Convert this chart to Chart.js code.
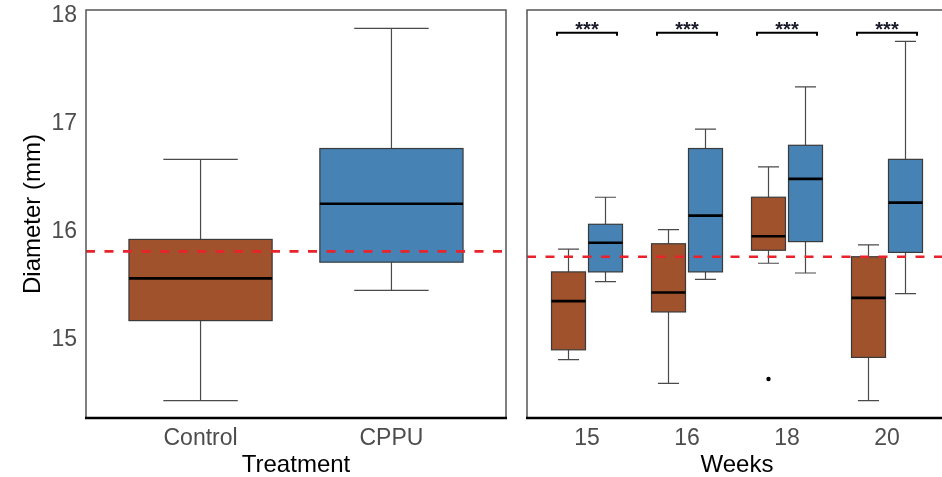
<!DOCTYPE html>
<html lang="en">
<head>
<meta charset="UTF-8">
<title>Diameter by treatment and week</title>
<script src="https://cdn.jsdelivr.net/npm/chart.js"></script>
<style>
  html, body { margin: 0; padding: 0; background: #fff; overflow: hidden; }
  body { width: 942px; height: 477px; position: relative; }
  canvas { position: absolute; top: 0; }
  #treatChart { left: 0; }
  #weekChart { left: 515px; }
</style>
</head>
<body>
<canvas id="treatChart" width="515" height="477"></canvas>
<canvas id="weekChart" width="440" height="477"></canvas>
<script>
// left panel, by treatment
const treatments = ['Control', 'CPPU'];
const treatLow = [14.44, 15.46];
const treatQ1 = [15.18, 15.72];
const treatMedian = [15.57, 16.26];
const treatQ3 = [15.93, 16.77];
const treatHigh = [16.67, 17.88];
const treatRef = 15.82;

// right panel, by week (control / CPPU side by side)
const weeks = ['15', '16', '18', '20'];
const ctrlLow = [14.82, 14.60, 15.71, 14.44];
const ctrlQ1 = [14.91, 15.26, 15.83, 14.84];
const ctrlMedian = [15.36, 15.44, 15.96, 15.39];
const ctrlQ3 = [15.63, 15.89, 16.32, 15.77];
const ctrlHigh = [15.84, 16.02, 16.60, 15.88];
const cppuLow = [15.54, 15.56, 15.62, 15.43];
const cppuQ1 = [15.63, 15.63, 15.91, 15.81];
const cppuMedian = [15.90, 16.15, 16.49, 16.27];
const cppuQ3 = [16.07, 16.77, 16.80, 16.67];
const cppuHigh = [16.32, 16.95, 17.34, 17.76];
const outlierWeek = [3];       // week position (18)
const outlierValue = [14.64];  // control group
const weekRef = 15.77;
const sigLabels = ['***', '***', '***', '***'];
const sigLevel = 17.84;

const yTicks = [15, 16, 17, 18];

const BROWN = '#A0522D';
const BLUE = '#4682B4';
const FONT = "'Liberation Sans', Arial, sans-serif";

// boxes, whiskers and medians drawn through the chart scales
function boxPlugin(groups, capRatio) {
  return {
    id: 'boxes',
    beforeDatasetsDraw(chart) {
      const { ctx, scales: { x, y } } = chart;
      ctx.save();
      groups.forEach(g => {
        g.median.forEach((m, i) => {
          const cx = i + 1 + g.offset;
          const xl = x.getPixelForValue(cx - g.width / 2);
          const xr = x.getPixelForValue(cx + g.width / 2);
          const xc = x.getPixelForValue(cx);
          const cap = (xr - xl) * capRatio / 2;
          const yLow = y.getPixelForValue(g.low[i]);
          const yQ1 = y.getPixelForValue(g.q1[i]);
          const yMed = y.getPixelForValue(m);
          const yQ3 = y.getPixelForValue(g.q3[i]);
          const yHigh = y.getPixelForValue(g.high[i]);

          ctx.strokeStyle = '#4a4a4a';
          ctx.lineWidth = 1.2;
          ctx.beginPath();
          ctx.moveTo(xc, yQ3); ctx.lineTo(xc, yHigh);
          ctx.moveTo(xc - cap, yHigh); ctx.lineTo(xc + cap, yHigh);
          ctx.moveTo(xc, yQ1); ctx.lineTo(xc, yLow);
          ctx.moveTo(xc - cap, yLow); ctx.lineTo(xc + cap, yLow);
          ctx.stroke();

          ctx.fillStyle = Array.isArray(g.color) ? g.color[i] : g.color;
          ctx.fillRect(xl, yQ3, xr - xl, yQ1 - yQ3);
          ctx.strokeStyle = '#3a3a3a';
          ctx.lineWidth = 1.2;
          ctx.strokeRect(xl, yQ3, xr - xl, yQ1 - yQ3);

          ctx.strokeStyle = '#000';
          ctx.lineWidth = 2.6;
          ctx.beginPath();
          ctx.moveTo(xl, yMed); ctx.lineTo(xr, yMed);
          ctx.stroke();
        });
      });
      ctx.restore();
    }
  };
}

function refLinePlugin(value) {
  return {
    id: 'refLine',
    afterDatasetsDraw(chart) {
      const { ctx, chartArea: a, scales: { y } } = chart;
      const py = y.getPixelForValue(value);
      ctx.save();
      ctx.strokeStyle = '#e8232b';
      ctx.lineWidth = 2.6;
      ctx.setLineDash([9, 9.5]);
      ctx.beginPath();
      ctx.moveTo(a.left, py);
      ctx.lineTo(a.right, py);
      ctx.stroke();
      ctx.restore();
    }
  };
}

function sigPlugin(labels, level, halfSpan) {
  return {
    id: 'sig',
    afterDatasetsDraw(chart) {
      const { ctx, scales: { x, y } } = chart;
      const py = y.getPixelForValue(level);
      ctx.save();
      ctx.strokeStyle = '#000';
      ctx.lineWidth = 2;
      ctx.fillStyle = '#1a1a2a';
      ctx.font = 'bold 20px ' + FONT;
      ctx.textAlign = 'center';
      ctx.textBaseline = 'alphabetic';
      labels.forEach((t, i) => {
        const x0 = x.getPixelForValue(i + 1 - halfSpan);
        const x1 = x.getPixelForValue(i + 1 + halfSpan);
        ctx.beginPath();
        ctx.moveTo(x0, py + 3);
        ctx.lineTo(x0, py);
        ctx.lineTo(x1, py);
        ctx.lineTo(x1, py + 3);
        ctx.stroke();
        ctx.fillText(t, x.getPixelForValue(i + 1), py + 3);
      });
      ctx.restore();
    }
  };
}

const framePlugin = {
  id: 'frame',
  afterDraw(chart) {
    const { ctx, chartArea: a } = chart;
    ctx.save();
    ctx.strokeStyle = '#555';
    ctx.lineWidth = 1.5;
    ctx.strokeRect(a.left, a.top, a.right - a.left, a.bottom - a.top);
    ctx.strokeStyle = '#000';
    ctx.lineWidth = 2.6;
    ctx.beginPath();
    ctx.moveTo(a.left - 1, a.bottom);
    ctx.lineTo(a.right + 1, a.bottom);
    ctx.stroke();
    ctx.restore();
  }
};

function makeOptions(labels, maxX, yWidth, padRight, showY, xTitle) {
  return {
    responsive: false,
    animation: false,
    devicePixelRatio: 1,
    layout: { padding: { top: 10, right: padRight, left: 0, bottom: 0 } },
    plugins: { legend: { display: false }, tooltip: { enabled: false } },
    scales: {
      x: {
        type: 'linear',
        min: 0.4,
        max: maxX,
        grid: { display: false, drawTicks: false },
        border: { display: false },
        afterBuildTicks: s => { s.ticks = labels.map((_, i) => ({ value: i + 1 })); },
        afterFit: s => { s.height = 59; s.paddingLeft = 0; s.paddingRight = 0; },
        ticks: {
          padding: 9,
          color: '#4d4d4d',
          font: { family: FONT, size: 23, lineHeight: 1 },
          maxRotation: 0,
          callback: v => labels[v - 1]
        },
        title: {
          display: true,
          text: xTitle,
          color: '#000',
          padding: { top: 0, bottom: 0 },
          font: { family: FONT, size: 24, lineHeight: 1 }
        }
      },
      y: {
        min: 14.28,
        max: 18.05,
        grid: { display: false, drawTicks: false },
        border: { display: false },
        afterBuildTicks: s => { s.ticks = yTicks.map(v => ({ value: v })); },
        afterFit: s => { s.width = yWidth; s.paddingTop = 0; s.paddingBottom = 0; },
        ticks: {
          display: showY,
          padding: 9,
          color: '#4d4d4d',
          font: { family: FONT, size: 23, lineHeight: 1 }
        },
        title: {
          display: showY,
          text: 'Diameter (mm)',
          color: '#000',
          padding: { top: 21, bottom: 0 },
          font: { family: FONT, size: 24, lineHeight: 1 }
        }
      }
    }
  };
}

new Chart(document.getElementById('treatChart'), {
  type: 'scatter',
  data: { datasets: [{ data: [] }] },
  options: makeOptions(treatments, 2.6, 86, 9, true, 'Treatment'),
  plugins: [
    boxPlugin([{ offset: 0, width: 0.75, color: [BROWN, BLUE], low: treatLow, q1: treatQ1, median: treatMedian, q3: treatQ3, high: treatHigh }], 0.52),
    refLinePlugin(treatRef),
    framePlugin
  ]
});

new Chart(document.getElementById('weekChart'), {
  type: 'scatter',
  data: {
    datasets: [{
      data: outlierWeek.map((w, i) => ({ x: w - 0.185, y: outlierValue[i] })),
      pointRadius: 2.2,
      pointBackgroundColor: '#000',
      pointBorderWidth: 0
    }]
  },
  options: makeOptions(weeks, 4.6, 12, 8, false, 'Weeks'),
  plugins: [
    boxPlugin([
      { offset: -0.185, width: 0.34, color: BROWN, low: ctrlLow, q1: ctrlQ1, median: ctrlMedian, q3: ctrlQ3, high: ctrlHigh },
      { offset: 0.185, width: 0.34, color: BLUE, low: cppuLow, q1: cppuQ1, median: cppuMedian, q3: cppuQ3, high: cppuHigh }
    ], 0.62),
    refLinePlugin(weekRef),
    sigPlugin(sigLabels, sigLevel, 0.3),
    framePlugin
  ]
});
</script>
</body>
</html>
